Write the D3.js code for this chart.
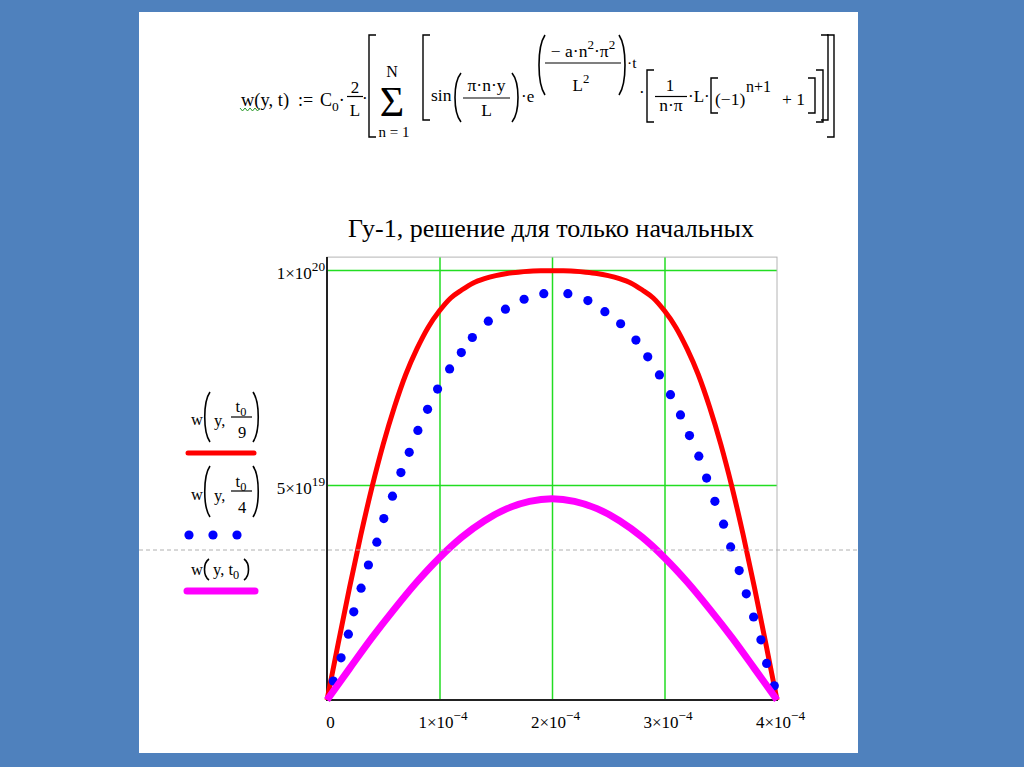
<!DOCTYPE html>
<html lang="ru">
<head>
<meta charset="utf-8">
<title>Гу-1, решение для только начальных</title>
<style>
  html, body { margin: 0; padding: 0; background: #4f81bd; }
  svg { display: block; font-family: "Liberation Serif", "Times New Roman", serif; }
</style>
</head>
<body>
<div id="chart"></div>
<script src="https://d3js.org/d3.v7.min.js"></script>
<script>
// y coordinate in units of 1e-4, w in units of 1e20
var xTicks = [0, 1, 2, 3, 4];
var xTickLabels = [["0", ""], ["1×10", "−4"], ["2×10", "−4"], ["3×10", "−4"], ["4×10", "−4"]];
var xGrid = [1, 2, 3];
var yTicks = [0.5, 1];
var yTickLabels = [["5×10", "19"], ["1×10", "20"]];

// w(y, t0/9)
var redY = [0, 0.05, 0.1, 0.2, 0.3, 0.4, 0.5, 0.6, 0.7, 0.8, 0.9, 1.0, 1.1, 1.2, 1.3, 1.4, 1.5, 1.6, 1.7, 1.8, 1.9, 2.0,
            2.1, 2.2, 2.3, 2.4, 2.5, 2.6, 2.7, 2.8, 2.9, 3.0, 3.1, 3.2, 3.3, 3.4, 3.5, 3.6, 3.7, 3.8, 3.9, 3.95, 4.0];
var redW = [0, 0.066, 0.132, 0.261, 0.383, 0.495, 0.595, 0.682, 0.757, 0.817, 0.867, 0.905, 0.935, 0.954, 0.970, 0.980, 0.987, 0.992, 0.995, 0.997, 0.998, 0.998,
            0.998, 0.997, 0.995, 0.992, 0.987, 0.980, 0.970, 0.954, 0.935, 0.905, 0.867, 0.817, 0.757, 0.682, 0.595, 0.495, 0.383, 0.261, 0.132, 0.066, 0];

// w(y, t0/4)  (dots)
var blueY = [0.056, 0.125, 0.190, 0.238, 0.303, 0.368, 0.443, 0.505, 0.582, 0.657, 0.731, 0.808, 0.894, 0.983,
             1.090, 1.194, 1.292, 1.434, 1.586, 1.752, 1.927, 2.141, 2.319, 2.470, 2.610, 2.746, 2.851, 2.955,
             3.053, 3.142, 3.222, 3.305, 3.374, 3.448, 3.525, 3.588, 3.664, 3.727, 3.792, 3.857, 3.908, 3.976];
var blueW = [0.044, 0.098, 0.153, 0.205, 0.260, 0.314, 0.367, 0.422, 0.474, 0.529, 0.576, 0.627, 0.676, 0.723,
             0.770, 0.808, 0.843, 0.881, 0.909, 0.932, 0.945, 0.945, 0.929, 0.903, 0.875, 0.837, 0.798, 0.756,
             0.710, 0.663, 0.615, 0.567, 0.516, 0.462, 0.409, 0.356, 0.301, 0.247, 0.193, 0.140, 0.085, 0.033];

// w(y, t0)
var magY = [0, 0.2, 0.4, 0.6, 0.8, 1.0, 1.2, 1.4, 1.6, 1.8, 2.0, 2.2, 2.4, 2.6, 2.8, 3.0, 3.2, 3.4, 3.6, 3.8, 4.0];
var magW = [0, 0.073, 0.145, 0.212, 0.275, 0.331, 0.379, 0.417, 0.445, 0.462, 0.468, 0.462, 0.445, 0.417, 0.379, 0.331, 0.275, 0.212, 0.145, 0.073, 0];

var W = 1024, H = 767;
var svg = d3.select("#chart").append("svg").attr("width", W).attr("height", H);

svg.append("rect").attr("width", W).attr("height", H).attr("fill", "#4f81bd");
svg.append("rect").attr("x", 139).attr("y", 12).attr("width", 719).attr("height", 741).attr("fill", "#fff");

// ---------- formula ----------
var fm = svg.append("g");

function mtext(g, x, y, segs, size, anchor) {
    var el = g.append("text")
        .attr("x", x).attr("y", y)
        .attr("font-size", size)
        .attr("text-anchor", anchor || "start")
        .attr("fill", "#000");
    var cur = 0;
    segs.forEach(function (s) {
        if (typeof s === "string") s = [s, 0];
        var off = s[1] * size * 0.45;
        var sp = el.append("tspan").attr("dy", off - cur).text(s[0]);
        if (s[1] !== 0) sp.attr("font-size", size * 0.75);
        cur = off;
    });
    return el;
}
function bar(g, x1, x2, y) {
    g.append("line").attr("x1", x1).attr("x2", x2).attr("y1", y).attr("y2", y)
        .attr("stroke", "#000").attr("stroke-width", 1.2);
}
function bracket(g, x, y1, y2, dir) {
    var s = dir * 7;
    g.append("path").attr("d", "M" + (x + s) + "," + y1 + "H" + x + "V" + y2 + "H" + (x + s))
        .attr("fill", "none").attr("stroke", "#000").attr("stroke-width", 1.4);
}
function paren(g, x1, x2, y1, y2, left) {
    var a = left ? x2 : x1, b = left ? x1 : x2, h = y2 - y1;
    g.append("path").attr("d", "M" + a + "," + y1 + "C" + b + "," + (y1 + h * 0.2) + " " + b + "," + (y2 - h * 0.2) + " " + a + "," + y2)
        .attr("fill", "none").attr("stroke", "#000").attr("stroke-width", 1.6);
}

mtext(fm, 241, 106, ["w(y, t)"], 18.5);
fm.append("path").attr("d", "M240,108 l2.5,3 l2.5,-3 l2.5,3 l2.5,-3 l2.5,3 l2.5,-3 l2.5,3 l2.5,-3")
    .attr("fill", "none").attr("stroke", "#2a9a2a").attr("stroke-width", 1);
mtext(fm, 298, 106, [":="], 18);
mtext(fm, 320, 106, ["C", ["0", 0.6], ["·", 0]], 18);
mtext(fm, 355, 93, ["2"], 17, "middle");
bar(fm, 347, 363, 96.5);
mtext(fm, 355, 116, ["L"], 17, "middle");
mtext(fm, 362, 104, ["·"], 17);
bracket(fm, 369, 35, 137, 1);
bracket(fm, 834, 35, 137, -1);
mtext(fm, 392, 77, ["N"], 16, "middle");
mtext(fm, 392, 116, ["Σ"], 42, "middle");
mtext(fm, 394, 136.5, ["n = 1"], 15, "middle");
bracket(fm, 423, 35, 120, 1);
bracket(fm, 828, 35, 120, -1);
mtext(fm, 431, 101, ["sin"], 17.5);
paren(fm, 453, 461, 73, 122, true);
paren(fm, 512, 520, 73, 122, false);
mtext(fm, 486.5, 91, ["π·n·y"], 17.5, "middle");
bar(fm, 463, 510, 98);
mtext(fm, 486.5, 116, ["L"], 17.5, "middle");
mtext(fm, 521, 102, ["·e"], 17);
paren(fm, 537, 545, 35, 95, true);
paren(fm, 619, 627, 35, 95, false);
mtext(fm, 583, 57, ["− a·n", ["2", -1], ["·π", 0], ["2", -1]], 17.5, "middle");
bar(fm, 545, 621, 63);
mtext(fm, 581, 91, ["L", ["2", -1]], 17, "middle");
mtext(fm, 627, 68, ["·t"], 15.5);
mtext(fm, 639, 98, ["·"], 17);
bracket(fm, 647, 70, 122, 1);
bracket(fm, 823, 70, 122, -1);
mtext(fm, 670, 91, ["1"], 17, "middle");
bar(fm, 655, 687, 96.5);
mtext(fm, 671, 111, ["n·π"], 17.5, "middle");
mtext(fm, 688, 102, ["·L·"], 17);
bracket(fm, 711, 78, 113, 1);
bracket(fm, 815, 78, 113, -1);
mtext(fm, 715, 105, ["(−1)"], 17.5);
mtext(fm, 746, 92, ["n+1"], 16);
mtext(fm, 782, 105, ["+ 1"], 17.5);

// ---------- plot ----------
var x = d3.scaleLinear().domain([0, 4]).range([327, 777]);
var y = d3.scaleLinear().domain([0, 1]).range([700, 270]);
var yTop = y(1.03);

svg.append("text").attr("x", 551).attr("y", 237).attr("text-anchor", "middle")
    .attr("font-family", "'Liberation Serif', 'DejaVu Serif', serif")
    .attr("font-size", 26).attr("fill", "#000")
    .text("Гу-1, решение для только начальных");

// grid
var gridX = svg.append("g").attr("transform", "translate(0," + y(0) + ")")
    .call(d3.axisBottom(x).tickValues(xGrid).tickSize(-(y(0) - yTop)).tickFormat(""));
var gridY = svg.append("g").attr("transform", "translate(" + x(0) + ",0)")
    .call(d3.axisLeft(y).tickValues(yTicks).tickSize(-(x(4) - x(0))).tickFormat(""));
[gridX, gridY].forEach(function (g) {
    g.select(".domain").remove();
    g.selectAll(".tick line").attr("stroke", "#22dd22").attr("stroke-width", 1.5);
});

// frame
svg.append("rect").attr("x", x(0)).attr("y", yTop).attr("width", x(4) - x(0)).attr("height", y(0) - yTop)
    .attr("fill", "none").attr("stroke", "#b4b4b4").attr("stroke-width", 1);
svg.append("path").attr("d", "M" + x(0) + "," + yTop + "V" + y(0) + "H" + (x(4) + 1))
    .attr("fill", "none").attr("stroke", "#222").attr("stroke-width", 2);

// tick labels
function sci(el, lab, size) {
    el.text(null);
    el.append("tspan").text(lab[0]);
    if (lab[1]) el.append("tspan").attr("dy", -size * 0.45).attr("font-size", size * 0.78).text(lab[1]);
}
var xAxis = svg.append("g").attr("transform", "translate(3," + y(0) + ")")
    .call(d3.axisBottom(x).tickValues(xTicks).tickSize(0).tickFormat(""));
xAxis.attr("font-family", null).attr("font-size", null);
xAxis.select(".domain").remove();
xAxis.selectAll(".tick text")
    .attr("y", 28).attr("dy", 0).attr("font-size", 17).attr("fill", "#000")
    .each(function (d, i) { sci(d3.select(this), xTickLabels[i], 17); });

var yAxis = svg.append("g").attr("transform", "translate(" + (x(0) - 2) + ",8)")
    .call(d3.axisLeft(y).tickValues(yTicks).tickSize(0).tickFormat(""));
yAxis.attr("font-family", null).attr("font-size", null);
yAxis.select(".domain").remove();
yAxis.selectAll(".tick text")
    .attr("x", 0).attr("dy", 0).attr("font-size", 17).attr("fill", "#000")
    .each(function (d, i) { sci(d3.select(this), yTickLabels[i], 17); });

// traces
var line = d3.line().x(function (d) { return x(d[0]); }).y(function (d) { return y(d[1]); })
    .curve(d3.curveMonotoneX);

svg.append("path").datum(d3.zip(redY, redW)).attr("d", line)
    .attr("fill", "none").attr("stroke", "#ff0000").attr("stroke-width", 5);

svg.selectAll(".dot").data(d3.zip(blueY, blueW)).enter().append("circle")
    .attr("class", "dot")
    .attr("cx", function (d) { return x(d[0]); })
    .attr("cy", function (d) { return y(d[1]); })
    .attr("r", 4.6)
    .attr("fill", "#0000ff");

svg.append("path").datum(d3.zip(magY, magW)).attr("d", line)
    .attr("fill", "none").attr("stroke", "#ff00ff").attr("stroke-width", 7);

// ---------- legend ----------
var lg = svg.append("g");
// w(y, t0/9)
mtext(lg, 191, 425, ["w"], 16.5);
paren(lg, 203, 210, 392, 442, true);
mtext(lg, 214, 426, ["y,"], 16.5);
mtext(lg, 241, 412, ["t", ["0", 0.6]], 16.5, "middle");
bar(lg, 231, 252, 417);
mtext(lg, 242, 438, ["9"], 16.5, "middle");
paren(lg, 253, 260, 392, 442, false);
lg.append("line").attr("x1", 188).attr("x2", 254).attr("y1", 453).attr("y2", 453)
    .attr("stroke", "#ff0000").attr("stroke-width", 5).attr("stroke-linecap", "round");
// w(y, t0/4)
mtext(lg, 191, 500, ["w"], 16.5);
paren(lg, 203, 210, 466, 517, true);
mtext(lg, 214, 501, ["y,"], 16.5);
mtext(lg, 241, 487, ["t", ["0", 0.6]], 16.5, "middle");
bar(lg, 231, 252, 491);
mtext(lg, 242, 513, ["4"], 16.5, "middle");
paren(lg, 253, 260, 466, 517, false);
[189, 213, 237].forEach(function (cx) {
    lg.append("circle").attr("cx", cx).attr("cy", 535).attr("r", 4.6).attr("fill", "#0000ff");
});
// w(y, t0)
mtext(lg, 191, 575, ["w"], 16.5);
paren(lg, 203, 209, 559, 580, true);
mtext(lg, 213, 575, ["y, t", ["0", 0.6]], 16.5);
paren(lg, 244, 250, 559, 580, false);
lg.append("line").attr("x1", 187).attr("x2", 255).attr("y1", 591).attr("y2", 591)
    .attr("stroke", "#ff00ff").attr("stroke-width", 7).attr("stroke-linecap", "round");

// page break marker
svg.append("line").attr("x1", 139).attr("x2", 858).attr("y1", 550).attr("y2", 550)
    .attr("stroke", "#b0b0b0").attr("stroke-width", 1).attr("stroke-dasharray", "4,3");
</script>
</body>
</html>
